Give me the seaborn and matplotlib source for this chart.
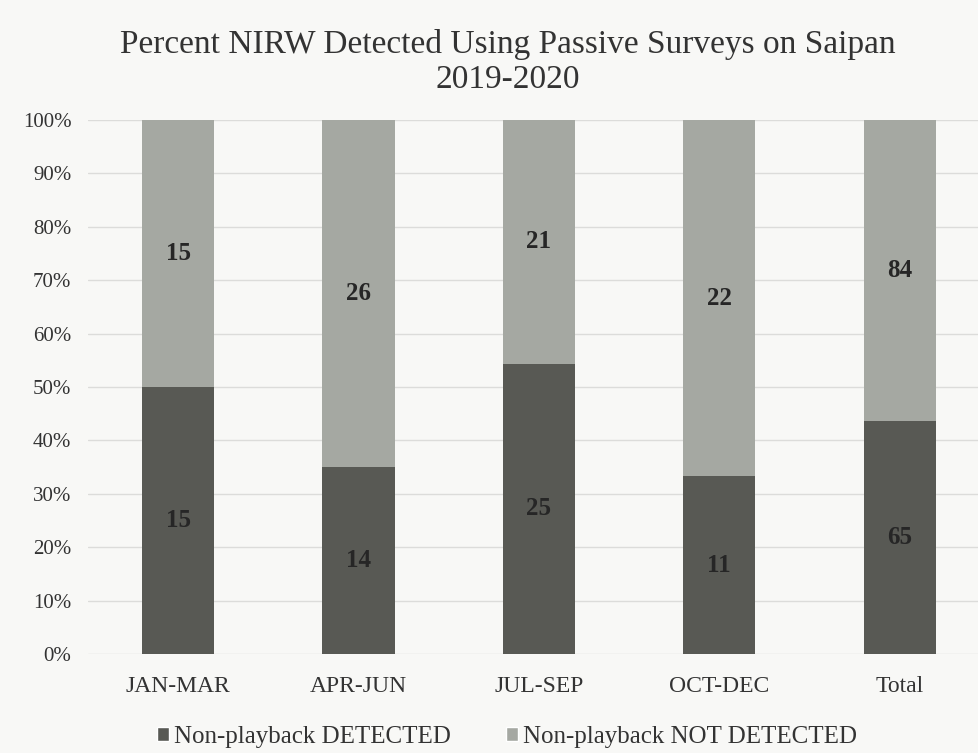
import matplotlib
matplotlib.use("Agg")
import matplotlib.pyplot as plt
from matplotlib.patches import Patch
import seaborn as sns
import pandas as pd
import numpy as np

categories = ["JAN-MAR", "APR-JUN", "JUL-SEP", "OCT-DEC", "Total"]
detected = [15, 14, 25, 11, 65]
not_detected = [15, 26, 21, 22, 84]
y_ticks = [0, 10, 20, 30, 40, 50, 60, 70, 80, 90, 100]

dark = "#585954"
light = "#a5a8a2"
bg = "#f8f8f6"
txt = "#333333"

sns.set_theme(style="white")
plt.rcParams["font.family"] = ["Liberation Serif", "DejaVu Serif"]

totals = np.array(detected) + np.array(not_detected)
pct_det = np.array(detected) / totals * 100
df = pd.DataFrame({"cat": categories, "full": 100.0, "det": pct_det})

fig = plt.figure(figsize=(9.79, 7.53), dpi=100, facecolor=bg)
ax = fig.add_axes([88 / 979, 1 - 654 / 753, (979 - 88) / 979, 534 / 753])
ax.set_facecolor(bg)

sns.barplot(data=df, x="cat", y="full", color=light, width=0.4, ax=ax,
            saturation=1, zorder=3, linewidth=0, edgecolor="none")
sns.barplot(data=df, x="cat", y="det", color=dark, width=0.4, ax=ax,
            saturation=1, zorder=3, linewidth=0, edgecolor="none")

for i in range(len(categories)):
    ax.text(i, pct_det[i] / 2, str(detected[i]), ha="center", va="center",
            fontsize=18, fontweight="bold", color="#262626", zorder=4)
    ax.text(i, pct_det[i] + (100 - pct_det[i]) / 2, str(not_detected[i]),
            ha="center", va="center", fontsize=18, fontweight="bold",
            color="#262626", zorder=4)

ax.set_ylim(0, 100)
ax.set_xlim(-0.5, 4.44)
ax.set_yticks(y_ticks)
ax.set_yticklabels([f"{t}%" for t in y_ticks], fontsize=15, color=txt)
ax.tick_params(axis="x", labelsize=17, labelcolor=txt, pad=16, length=0)
ax.tick_params(axis="y", length=0, pad=12)
ax.yaxis.grid(True, color="#dcdcda", linewidth=1, zorder=0)
ax.set_axisbelow(True)
ax.set_xlabel("")
ax.set_ylabel("")
for s in ax.spines.values():
    s.set_visible(False)

fig.text(508 / 979, 1 - 62 / 753,
         "Percent NIRW Detected Using Passive Surveys on Saipan\n2019-2020",
         ha="center", va="center", fontsize=24, color=txt, linespacing=1.2)

handles = [Patch(facecolor=dark, label="Non-playback DETECTED"),
           Patch(facecolor=light, label="Non-playback NOT DETECTED")]
fig.legend(handles=handles, loc="center", bbox_to_anchor=(507 / 979, 1 - 737 / 753),
           ncol=2, frameon=False, fontsize=18, handlelength=0.5, handleheight=0.5,
           handletextpad=0.2, columnspacing=2.2, labelcolor=txt)

fig.savefig("out.png", dpi=100, facecolor=bg)
